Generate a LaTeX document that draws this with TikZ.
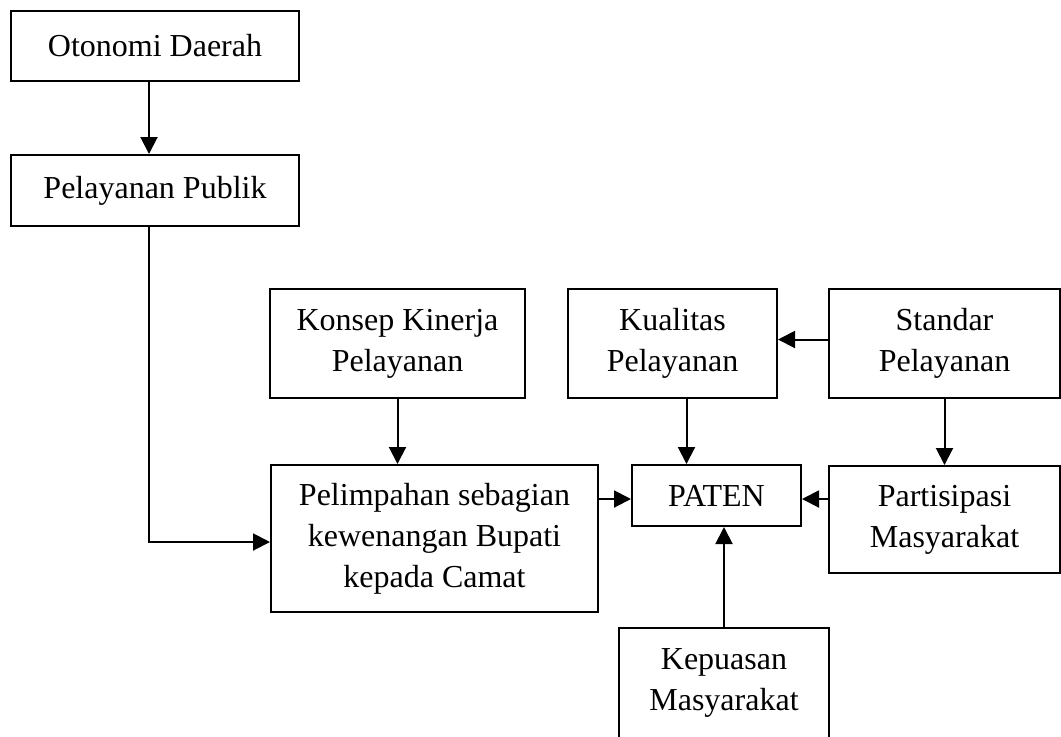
\documentclass[tikz,border=0pt]{standalone}
\usepackage{fontspec}
\setmainfont{Liberation Serif}
\usepackage{tikz}
\usetikzlibrary{arrows.meta, positioning, calc}

\begin{document}
\begin{tikzpicture}[x=0.5pt, y=-0.5pt,
    box/.style={draw=black, line width=1pt, align=center, inner sep=0pt,
        font=\fontsize{16}{20.5}\selectfont},
    arr/.style={line width=1pt, -{Triangle[length=8.5pt,width=8.5pt]}}]

    % page frame
    \useasboundingbox (0,0) rectangle (1061,736);
    \clip (0,0) rectangle (1061,736);

    % left column
    \node[box, minimum width=144pt, minimum height=35pt] (oto) at (155,46) {Otonomi Daerah};
    \node[box, minimum width=144pt, minimum height=35.5pt] (pub) at (155,190.5) {Pelayanan Publik};

    % top row
    \node[box, minimum width=127.5pt, minimum height=54.5pt] (konsep) at (397.5,343.5) {Konsep Kinerja\\Pelayanan};
    \node[box, minimum width=104.5pt, minimum height=54.5pt] (kual) at (672.5,343.5) {Kualitas\\Pelayanan};
    \node[box, minimum width=115.5pt, minimum height=54.5pt] (std) at (944.5,343.5) {Standar\\Pelayanan};

    % middle row
    \node[box, minimum width=163.5pt, minimum height=73.5pt] (pel) at (434.5,538.5) {Pelimpahan sebagian\\kewenangan Bupati\\kepada Camat};
    \node[box, minimum width=84.5pt, minimum height=30.5pt] (paten) at (716.5,495.5) {PATEN};
    \node[box, minimum width=115.5pt, minimum height=53.5pt] (par) at (944.5,519.5) {Partisipasi\\Masyarakat};

    % bottom
    \node[box, minimum width=105pt, minimum height=55pt] (kep) at (724,683) {Kepuasan\\Masyarakat};

    % arrows
    \draw[arr] ([xshift=-3pt]oto.south) -- ([xshift=-3pt]pub.north);
    \draw[arr] ([xshift=-3pt]pub.south) |- ([yshift=-1.75pt]pel.west);
    \draw[arr] (konsep.south) -- (konsep.south |- pel.north);
    \draw[arr] ([xshift=7pt]kual.south) -- ([xshift=7pt]kual.south |- paten.north);
    \draw[arr] ([yshift=2pt]std.west) -- ([yshift=2pt]kual.east);
    \draw[arr] (std) -- (par);
    \draw[arr] ([yshift=-1.75pt]pel.east |- paten.west) -- ([yshift=-1.75pt]paten.west);
    \draw[arr] ([yshift=-1.75pt]par.west |- paten.east) -- ([yshift=-1.75pt]paten.east);
    \draw[arr] (kep.north) -- (kep.north |- paten.south);

\end{tikzpicture}
\end{document}
